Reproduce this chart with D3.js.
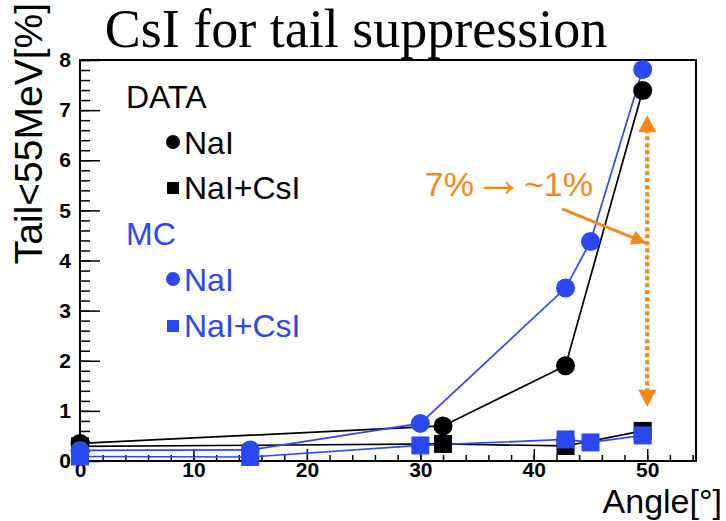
<!DOCTYPE html>
<html>
<head>
<meta charset="utf-8">
<script src="https://cdn.jsdelivr.net/npm/d3@7"></script>
<style>
  html, body { margin: 0; padding: 0; background: #fff; }
  svg { display: block; }
  text { font-family: "Liberation Sans", Arial, Helvetica, sans-serif; }
</style>
</head>
<body>
<svg id="chart" width="726" height="521"></svg>
<script>
// Tail fraction below 55 MeV versus incident angle
const dataNaIAngle   = [0, 32, 42.8, 49.6];
const dataNaIValue   = [0.35, 0.70, 1.90, 7.39];
const dataCsIAngle   = [0, 32, 42.8, 49.6];
const dataCsIValue   = [0.29, 0.34, 0.30, 0.60];
const mcNaIAngle     = [0, 15, 30, 42.8, 45, 49.6];
const mcNaIValue     = [0.21, 0.22, 0.75, 3.45, 4.38, 7.81];
const mcCsIAngle     = [0, 15, 30, 42.8, 45, 49.6];
const mcCsIValue     = [0.09, 0.08, 0.31, 0.43, 0.37, 0.51];

const xMajorTicks = [0, 10, 20, 30, 40, 50];
const yMajorTicks = [0, 1, 2, 3, 4, 5, 6, 7, 8];

const BLACK = "#000000";
const BLUE = "#2b48f5";
const ORANGE = "#f7861b";

const svg = d3.select("#chart");
const plotLeft = 80, plotRight = 696, plotTop = 60, plotBottom = 461;

const x = d3.scaleLinear().domain([0, 54.3]).range([plotLeft, plotRight]);
const y = d3.scaleLinear().domain([0, 8]).range([plotBottom, plotTop]);

// Title
svg.append("text")
  .attr("x", 356).attr("y", 47)
  .attr("text-anchor", "middle")
  .style("font-family", "'Liberation Serif', 'Times New Roman', serif")
  .style("font-size", "54px")
  .text("CsI for tail suppression");

// Frame
svg.append("rect")
  .attr("x", plotLeft).attr("y", plotTop)
  .attr("width", plotRight - plotLeft).attr("height", plotBottom - plotTop)
  .attr("fill", "none").attr("stroke", BLACK).attr("stroke-width", 2);

// Minor ticks
svg.append("g")
  .attr("transform", `translate(${plotLeft},0)`)
  .call(d3.axisLeft(y).tickValues(d3.range(0, 8.001, 0.2)).tickSize(-10).tickFormat(""))
  .call(g => g.select(".domain").remove())
  .call(g => g.selectAll("line").attr("stroke-width", 1.5));
svg.append("g")
  .attr("transform", `translate(0,${plotBottom})`)
  .call(d3.axisBottom(x).tickValues(d3.range(0, 54.3, 2)).tickSize(-6).tickFormat(""))
  .call(g => g.select(".domain").remove())
  .call(g => g.selectAll("line").attr("stroke-width", 1.5));

// Major ticks and labels
const yAxis = svg.append("g")
  .attr("transform", `translate(${plotLeft},0)`)
  .call(d3.axisLeft(y).tickValues(yMajorTicks).tickSize(-20).tickPadding(9).tickFormat(d3.format("d")));
yAxis.select(".domain").remove();
yAxis.selectAll("line").attr("stroke-width", 1.5);
yAxis.selectAll("text")
  .style("font-size", "21px").style("font-weight", "bold")
  .attr("fill", BLACK);

const xAxis = svg.append("g")
  .attr("transform", `translate(0,${plotBottom})`)
  .call(d3.axisBottom(x).tickValues(xMajorTicks).tickSize(-12).tickPadding(1).tickFormat(d3.format("d")));
xAxis.select(".domain").remove();
xAxis.selectAll("line").attr("stroke-width", 1.5);
xAxis.selectAll("text")
  .style("font-size", "21px").style("font-weight", "bold")
  .attr("fill", BLACK);

// Axis titles
svg.append("text")
  .attr("transform", "translate(42,3) rotate(-90)")
  .attr("text-anchor", "end")
  .style("font-size", "39px")
  .text("Tail<55MeV[%]");

svg.append("text")
  .attr("x", 722).attr("y", 513)
  .attr("text-anchor", "end")
  .style("font-size", "34px")
  .text("Angle[°]");

// Series
const series = [
  { ax: dataCsIAngle, vals: dataCsIValue, color: BLACK, shape: "square" },
  { ax: dataNaIAngle, vals: dataNaIValue, color: BLACK, shape: "circle" },
  { ax: mcCsIAngle,   vals: mcCsIValue,   color: BLUE,  shape: "square" },
  { ax: mcNaIAngle,   vals: mcNaIValue,   color: BLUE,  shape: "circle" }
];

const line = d3.line().x(d => x(d[0])).y(d => y(d[1]));

series.forEach(s => {
  const pts = s.ax.map((a, i) => [a, s.vals[i]]);
  svg.append("path")
    .datum(pts)
    .attr("d", line)
    .attr("fill", "none")
    .attr("stroke", s.color)
    .attr("stroke-width", 1.7);
});

series.forEach(s => {
  const pts = s.ax.map((a, i) => [a, s.vals[i]]);
  const g = svg.append("g");
  if (s.shape === "circle") {
    g.selectAll("circle").data(pts).join("circle")
      .attr("cx", d => x(d[0])).attr("cy", d => y(d[1]))
      .attr("r", 9.5).attr("fill", s.color);
  } else {
    g.selectAll("rect").data(pts).join("rect")
      .attr("x", d => x(d[0]) - 9).attr("y", d => y(d[1]) - 9)
      .attr("width", 18).attr("height", 18).attr("fill", s.color);
  }
});

// Legend
const legend = svg.append("g");
const legendRows = [
  { label: "DATA", color: BLACK, marker: null, yb: 108 },
  { label: "NaI", color: BLACK, marker: "circle", yb: 154 },
  { label: "NaI+CsI", color: BLACK, marker: "square", yb: 199 },
  { label: "MC", color: BLUE, marker: null, yb: 245 },
  { label: "NaI", color: BLUE, marker: "circle", yb: 291 },
  { label: "NaI+CsI", color: BLUE, marker: "square", yb: 337 }
];
legendRows.forEach(r => {
  const tx = r.marker ? 184 : 126;
  legend.append("text")
    .attr("x", tx).attr("y", r.yb)
    .attr("fill", r.color)
    .style("font-size", "32px")
    .text(r.label);
  if (r.marker === "circle") {
    legend.append("circle").attr("cx", 173).attr("cy", r.yb - 12).attr("r", 7).attr("fill", r.color);
  } else if (r.marker === "square") {
    legend.append("rect").attr("x", 167).attr("y", r.yb - 17).attr("width", 12).attr("height", 12).attr("fill", r.color);
  }
});

// Annotation
const defs = svg.append("defs");
defs.append("marker")
  .attr("id", "headOrange")
  .attr("viewBox", "0 0 10 10")
  .attr("refX", 9).attr("refY", 5)
  .attr("markerWidth", 5).attr("markerHeight", 5)
  .attr("markerUnits", "strokeWidth")
  .attr("orient", "auto-start-reverse")
  .append("path").attr("d", "M0,0 L10,5 L0,10 Z").attr("fill", ORANGE);

const note = svg.append("text")
  .attr("x", x(30.4)).attr("y", y(5.28))
  .attr("fill", ORANGE)
  .style("font-size", "34px");
note.append("tspan").text("7%");
note.append("tspan").style("font-size", "50px").attr("dx", 0).text("→");
note.append("tspan").attr("dx", 0).text("~1%");

svg.append("line")
  .attr("x1", x(42.5)).attr("y1", y(5.03))
  .attr("x2", x(49.8)).attr("y2", y(4.355))
  .attr("stroke", ORANGE).attr("stroke-width", 3)
  .attr("marker-end", "url(#headOrange)");

const arrowHead = (xt, yt, dir) => {
  const w = 9, h = 17;
  return `M${xt},${yt} L${xt - w},${yt - dir * h} L${xt + w},${yt - dir * h} Z`;
};
svg.append("line")
  .attr("x1", x(50)).attr("y1", y(6.9) + 14)
  .attr("x2", x(50)).attr("y2", y(1.08) - 14)
  .attr("stroke", ORANGE).attr("stroke-width", 4.3)
  .attr("stroke-dasharray", "4,3");
svg.append("path").attr("d", arrowHead(x(50), y(6.9), -1)).attr("fill", ORANGE);
svg.append("path").attr("d", arrowHead(x(50), y(1.08), 1)).attr("fill", ORANGE);
</script>
</body>
</html>
